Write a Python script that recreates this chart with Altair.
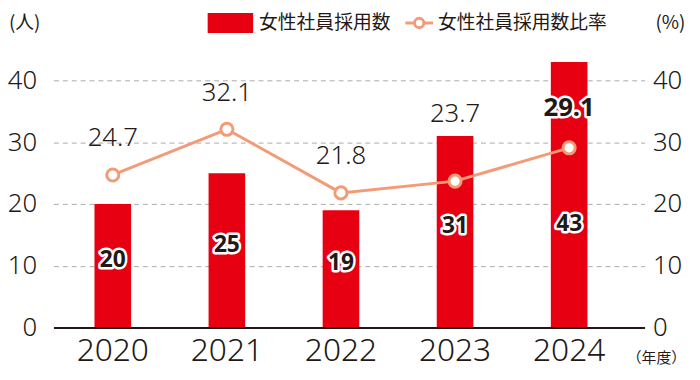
import altair as alt
import pandas as pd

years = ["2020", "2021", "2022", "2023", "2024"]
hires = [20, 25, 19, 31, 43]
ratio = [24.7, 32.1, 21.8, 23.7, 29.1]
hire_labels = ["20", "25", "19", "31", "43"]
ratio_labels = ["24.7", "32.1", "21.8", "23.7", "29.1"]
series_names = ["女性社員採用数", "女性社員採用数比率"]
left_unit = "(人)"
right_unit = "(%)"
x_unit = "（年度）"
y_ticks = [0, 10, 20, 30, 40]

RED = "#E60012"
ORANGE = "#F39B77"
INK = "#231815"
NUM_FONT = "Noto Sans"
JP_FONT = "Noto Sans CJK JP"

n = len(years)
df = pd.DataFrame({
    "year": years,
    "hires": hires,
    "ratio": ratio,
    "hire_label": hire_labels,
    "ratio_label": ratio_labels,
})
df["bar_lab_y"] = [min(c / 2 + 0.9, 16.7) for c in hires]
df["ratio_lab_y"] = [
    (r + 6.5) if i == n - 1 else max(r + 5.9, c + 3.5)
    for i, (r, c) in enumerate(zip(ratio, hires))
]
df["emph"] = [i == n - 1 for i in range(n)]

W, H = 598, 281
yscale = alt.Scale(domain=[0, 45], nice=False, zero=True)

xenc = alt.X(
    "year:N", sort=years, title=None,
    scale=alt.Scale(paddingInner=0.679, paddingOuter=0.43, align=0.418),
    axis=alt.Axis(labelAngle=0, labelFont=NUM_FONT, labelFontSize=32,
                  labelColor=INK, ticks=False, domainColor=INK, domainWidth=2,
                  labelPadding=8, zindex=1, labelFontWeight=300),
)

left_axis = alt.Axis(orient="left", values=y_ticks, ticks=False, domain=False,
                     labelFont=NUM_FONT, labelFontSize=26, labelColor=INK,
                     labelFontWeight=300, labelPadding=17, grid=True,
                     gridColor="#AAAAAA", gridDash=[5, 4], gridWidth=1)
right_axis = alt.Axis(orient="right", values=y_ticks, ticks=False, domain=False,
                      grid=False, labelFont=NUM_FONT, labelFontSize=26,
                      labelFontWeight=300, labelColor=INK, labelPadding=8)


def ly(field):
    return alt.Y(field, scale=yscale, title=None, axis=left_axis)


def ry(field):
    return alt.Y(field, scale=yscale, title=None, axis=right_axis)


bars = alt.Chart(df).mark_bar(color=RED).encode(x=xenc, y=ly("hires:Q"))
bar_halo = alt.Chart(df).mark_text(
    font=NUM_FONT, fontSize=23, fontWeight="bold", fill="white", stroke="white",
    strokeWidth=5, strokeJoin="round", baseline="middle",
).encode(x=xenc, y=ly("bar_lab_y:Q"), text="hire_label:N")
bar_text = alt.Chart(df).mark_text(
    font=NUM_FONT, fontSize=23, fontWeight="bold", color=INK, baseline="middle",
).encode(x=xenc, y=ly("bar_lab_y:Q"), text="hire_label:N")

left_group = alt.layer(bars, bar_halo, bar_text)

line = alt.Chart(df).mark_line(color=ORANGE, strokeWidth=3).encode(
    x=xenc, y=ry("ratio:Q"))
points = alt.Chart(df).mark_point(
    shape="circle", filled=True, fill="white", stroke=ORANGE, strokeWidth=3,
    size=150, opacity=1,
).encode(x=xenc, y=ry("ratio:Q"))
ratio_text = alt.Chart(df).transform_filter("!datum.emph").mark_text(
    font=NUM_FONT, fontSize=26, fontWeight=300, color=INK, baseline="middle",
).encode(x=xenc, y=ry("ratio_lab_y:Q"), text="ratio_label:N")
emph_halo = alt.Chart(df).transform_filter("datum.emph").mark_text(
    font=NUM_FONT, fontSize=26, fontWeight="bold", fill="white", stroke="white",
    strokeWidth=5, strokeJoin="round", baseline="middle",
).encode(x=xenc, y=ry("ratio_lab_y:Q"), text="ratio_label:N")
emph_text = alt.Chart(df).transform_filter("datum.emph").mark_text(
    font=NUM_FONT, fontSize=26, fontWeight="bold", color=INK, baseline="middle",
).encode(x=xenc, y=ry("ratio_lab_y:Q"), text="ratio_label:N")

right_group = alt.layer(line, points, ratio_text, emph_halo, emph_text)

one = pd.DataFrame({"k": [0]})
LEG_Y = -27
leg_rect = alt.Chart(one).mark_rect(color=RED).encode(
    x=alt.value(156), x2=alt.value(202), y=alt.value(LEG_Y - 10), y2=alt.value(LEG_Y + 10))
leg_t1 = alt.Chart(one).mark_text(
    align="left", baseline="middle", font=JP_FONT, fontSize=19, color=INK
).encode(x=alt.value(208), y=alt.value(LEG_Y), text=alt.value(series_names[0]))
leg_line = alt.Chart(one).mark_rule(color=ORANGE, strokeWidth=3).encode(
    x=alt.value(356), x2=alt.value(384), y=alt.value(LEG_Y))
leg_pt = alt.Chart(one).mark_point(
    shape="circle", filled=True, fill="white", stroke=ORANGE, strokeWidth=3,
    size=90, opacity=1).encode(x=alt.value(370), y=alt.value(LEG_Y))
leg_t2 = alt.Chart(one).mark_text(
    align="left", baseline="middle", font=JP_FONT, fontSize=19, color=INK
).encode(x=alt.value(389), y=alt.value(LEG_Y), text=alt.value(series_names[1]))
unit_l = alt.Chart(one).mark_text(
    align="left", baseline="middle", font=JP_FONT, fontSize=19, color=INK
).encode(x=alt.value(-45), y=alt.value(LEG_Y), text=alt.value(left_unit))
unit_r = alt.Chart(one).mark_text(
    align="left", baseline="middle", font=JP_FONT, fontSize=19, color=INK
).encode(x=alt.value(609), y=alt.value(LEG_Y), text=alt.value(right_unit))
unit_x = alt.Chart(one).mark_text(
    align="left", baseline="middle", font=JP_FONT, fontSize=15, color=INK
).encode(x=alt.value(580), y=alt.value(312), text=alt.value(x_unit))

legend_group = alt.layer(leg_rect, leg_t1, leg_line, leg_pt, leg_t2, unit_l, unit_r, unit_x)

chart = alt.layer(left_group, right_group, legend_group).resolve_scale(
    y="independent"
).properties(
    width=W, height=H,
    autosize=alt.AutoSizeParams(type="none"),
    padding={"left": 46, "top": 40, "right": 48, "bottom": 51},
).configure_view(stroke=None)

chart.save("out.html", embed_options={"renderer": "svg", "actions": False})
